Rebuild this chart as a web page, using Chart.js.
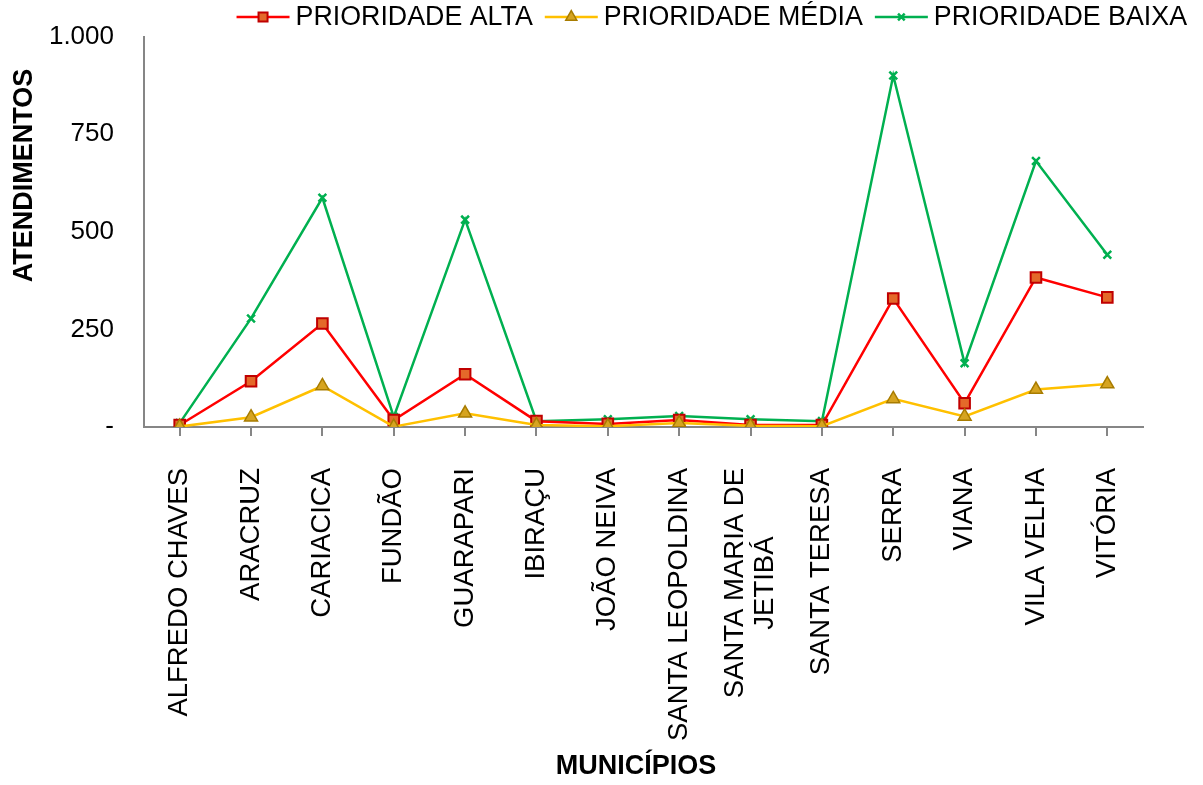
<!DOCTYPE html>
<html>
<head>
<meta charset="utf-8">
<script src="https://cdn.jsdelivr.net/npm/chart.js@4/dist/chart.umd.min.js"></script>
<style>
  html, body { margin: 0; padding: 0; background: #fff; }
  #wrap { width: 1203px; height: 785px; }
</style>
</head>
<body>
<div id="wrap"><canvas id="line-chart" width="1203" height="785"></canvas></div>
<script>
// dados
const municipios = [
  "ALFREDO CHAVES", "ARACRUZ", "CARIACICA", "FUNDÃO", "GUARAPARI", "IBIRAÇU",
  "JOÃO NEIVA", "SANTA LEOPOLDINA", ["SANTA MARIA DE", "JETIBÁ"], "SANTA TERESA",
  "SERRA", "VIANA", "VILA VELHA", "VITÓRIA"
];
const prioridadeAlta  = [5, 117, 265, 18, 135, 15, 8, 18, 5, 5, 329, 61, 383, 332];
const prioridadeMedia = [1, 25, 105, 1, 35, 5, 2, 10, 3, 2, 72, 27, 96, 110];
const prioridadeBaixa = [10, 278, 587, 26, 531, 15, 20, 28, 20, 15, 900, 163, 681, 441];
const yTicks = [0, 250, 500, 750, 1000];

const FONT = "'Liberation Sans', Arial, sans-serif";

// legenda com linha + marcador
const legendPlugin = {
  id: "legendaLinha",
  afterDraw(chart) {
    const ctx = chart.ctx;
    const items = chart.data.datasets;
    ctx.save();
    ctx.font = "26.8px " + FONT;
    ctx.textBaseline = "middle";
    const lineW = 53, gapText = 6, gapItem = 12, y = 17;
    let x = 1187;
    const pos = [];
    for (let i = items.length - 1; i >= 0; i--) {
      const w = ctx.measureText(items[i].label).width;
      x -= w;
      const tx = x;
      x -= gapText + lineW;
      pos[i] = { lx: x, tx: tx };
      x -= gapItem;
    }
    items.forEach((ds, i) => {
      const p = pos[i];
      ctx.strokeStyle = ds.borderColor;
      ctx.lineWidth = 2.5;
      ctx.beginPath();
      ctx.moveTo(p.lx, y);
      ctx.lineTo(p.lx + lineW, y);
      ctx.stroke();
      ctx.fillStyle = ds.pointBackgroundColor;
      ctx.strokeStyle = ds.pointBorderColor;
      ctx.lineWidth = ds.pointBorderWidth;
      Chart.helpers.drawPoint(ctx, {
        pointStyle: ds.pointStyle, radius: ds.pointRadius * 0.85, rotation: 0, borderWidth: ds.pointBorderWidth
      }, p.lx + lineW / 2, y);
      ctx.fillStyle = "#000";
      ctx.fillText(ds.label, p.tx, y + 1);
    });
    ctx.restore();
  }
};

// rotulos de varias linhas: centralizar no tick como no original
const centerMultiLine = {
  id: "centroMultiLinha",
  beforeDraw(chart) {
    const scale = chart.scales.x;
    const items = scale.getLabelItems(chart.chartArea);
    const ctx = chart.ctx;
    items.forEach(it => {
      if (!Array.isArray(it.label) || it._fixed) return;
      ctx.save();
      ctx.font = it.font.string;
      const w = Math.max(...it.label.map(s => ctx.measureText(s).width));
      ctx.restore();
      const lh = it.font.lineHeight;
      it.options.textAlign = "center";
      it.options.translation[1] += w / 2;
      it.options.translation[0] -= lh * (it.label.length - 1) / 2;
      it._fixed = true;
    });
  }
};

const ctx = document.getElementById("line-chart").getContext("2d");
new Chart(ctx, {
  type: "line",
  data: {
    labels: municipios,
    datasets: [
      {
        label: "PRIORIDADE ALTA",
        data: prioridadeAlta,
        borderColor: "#ff0000",
        borderWidth: 2.5,
        pointStyle: "rect",
        pointRadius: 7.5,
        pointBackgroundColor: "#e4692a",
        pointBorderColor: "#c00000",
        pointBorderWidth: 2,
        order: 2
      },
      {
        label: "PRIORIDADE MÉDIA",
        data: prioridadeMedia,
        borderColor: "#ffc000",
        borderWidth: 2.5,
        pointStyle: "triangle",
        pointRadius: 7.5,
        pointBackgroundColor: "#d6a420",
        pointBorderColor: "#a87c00",
        pointBorderWidth: 1.5,
        order: 1
      },
      {
        label: "PRIORIDADE BAIXA",
        data: prioridadeBaixa,
        borderColor: "#00b050",
        borderWidth: 2.5,
        pointStyle: "crossRot",
        pointRadius: 5.5,
        pointBackgroundColor: "#00b050",
        pointBorderColor: "#00b050",
        pointBorderWidth: 2.5,
        order: 3
      }
    ]
  },
  options: {
    responsive: false,
    animation: false,
    layout: { padding: { top: 35, right: 60, left: 4, bottom: 0 } },
    plugins: {
      legend: { display: false },
      tooltip: { enabled: false }
    },
    scales: {
      x: {
        offset: true,
        grid: { drawOnChartArea: false, drawTicks: true, tickLength: 9, color: "#868686", lineWidth: 2, offset: false },
        border: { color: "#868686", width: 2 },
        ticks: {
          color: "#000",
          font: { family: FONT, size: 27.5, lineHeight: 1.1 },
          maxRotation: 90,
          minRotation: 90,
          autoSkip: false,
          padding: 32
        },
        title: {
          display: true,
          text: "MUNICÍPIOS  ",
          color: "#000",
          font: { family: FONT, size: 27, weight: "bold" },
          padding: { top: 0, bottom: 2 }
        },
        afterFit(scale) { scale.height = 358; }
      },
      y: {
        min: 0,
        max: 1000,
        afterBuildTicks(scale) { scale.ticks = yTicks.map(v => ({ value: v })); },
        grid: { display: false, drawTicks: false },
        border: { color: "#868686", width: 2 },
        ticks: {
          color: "#000",
          font: { family: FONT, size: 26, lineHeight: 0.5 },
          padding: 30,
          callback(v) { return v === 0 ? "-" : v.toLocaleString("pt-BR"); }
        },
        title: {
          display: true,
          // espacos iniciais para subir o titulo como no original
          text: "               ATENDIMENTOS",
          color: "#000",
          font: { family: FONT, size: 27, weight: "bold" },
          padding: { top: 4, bottom: 0 }
        },
        afterFit(scale) { scale.width = 140; }
      }
    }
  },
  plugins: [legendPlugin, centerMultiLine]
});
</script>
</body>
</html>
